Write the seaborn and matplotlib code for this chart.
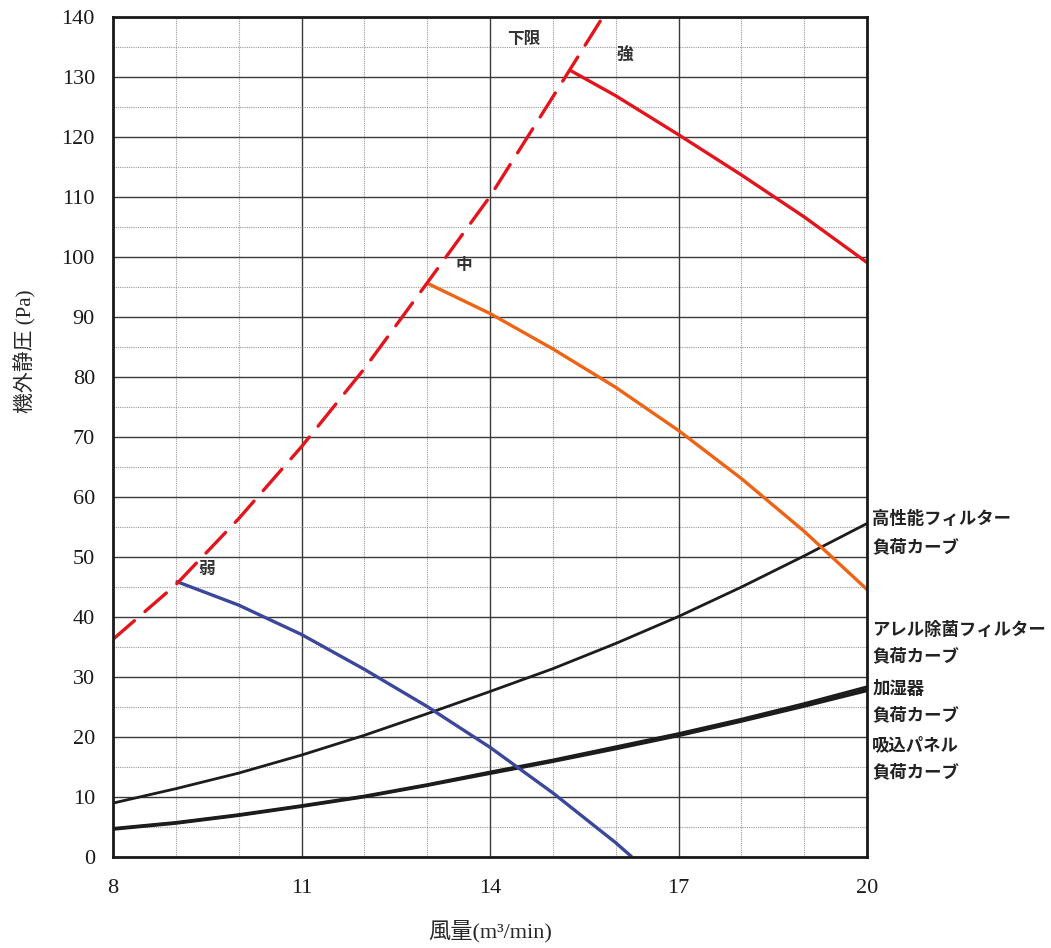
import numpy as np
import pandas as pd
import seaborn as sns
import matplotlib.pyplot as plt
from matplotlib.ticker import MultipleLocator, FixedLocator
import matplotlib.transforms as mtransforms

sns.set_style("white")
plt.rcParams['font.family'] = ['Liberation Serif', 'Noto Sans CJK JP']

# 下限 (赤破線)
limit_x = [8, 9, 10, 11, 12, 13, 14, 15, 15.8]
limit_y = [36.2, 45.3, 56.3, 68.3, 81.3, 95.6, 110.0, 126.6, 140.0]

# 弱
weak_x = [9.02, 10, 11, 12, 13, 14, 15, 16, 16.25]
weak_y = [45.8, 41.9, 37.0, 31.2, 25.0, 18.2, 10.6, 2.3, 0.0]

# 中
mid_x = [13.03, 14, 15, 16, 17, 18, 19, 20]
mid_y = [95.4, 90.5, 84.6, 78.2, 71.0, 63.0, 54.2, 44.5]

# 強
strong_x = [15.28, 16, 17, 18, 19, 20]
strong_y = [131.0, 126.8, 120.3, 113.6, 106.6, 99.0]

# 負荷カーブ
load_x = [8, 9, 10, 11, 12, 13, 14, 15, 16, 17, 18, 19, 20]
hepa_y = [8.9, 11.3, 13.9, 16.9, 20.2, 23.8, 27.5, 31.3, 35.5, 40.0, 44.9, 50.1, 55.5]
allergy_y = [4.7, 5.7, 7.0, 8.5, 10.1, 12.0, 14.1, 16.1, 18.3, 20.5, 22.9, 25.5, 28.3]
humid_y = [4.6, 5.6, 6.9, 8.4, 10.0, 11.9, 14.0, 16.0, 18.1, 20.3, 22.7, 25.2, 27.9]
panel_y = [4.5, 5.5, 6.8, 8.3, 9.9, 11.8, 13.8, 15.8, 17.9, 20.1, 22.5, 25.0, 27.6]

fan_labels = ['下限', '強', '中', '弱']
fan_label_x = [14.54, 16.14, 13.58, 9.49]
fan_label_y = [136.3, 133.4, 98.6, 48.0]

right_labels = ['高性能フィルター', '負荷カーブ', 'アレル除菌フィルター', '負荷カーブ',
                '加湿器', '負荷カーブ', '吸込パネル', '負荷カーブ']
right_label_y = [56.2, 51.6, 37.8, 33.3, 28.0, 23.6, 18.6, 14.1]

red = '#E3141C'
orange = '#EF6414'
blue = '#3B479B'
black = '#1C1C1C'

fig = plt.figure(figsize=(10.51, 9.48), dpi=100)
ax = fig.add_axes([113 / 1051, (948 - 856.5) / 948, 754 / 1051, 840 / 948])

# grid
ax.set_xlim(8, 20)
ax.set_ylim(0, 140)
ax.xaxis.set_major_locator(FixedLocator([8, 11, 14, 17, 20]))
ax.xaxis.set_minor_locator(MultipleLocator(1))
ax.yaxis.set_major_locator(MultipleLocator(10))
ax.yaxis.set_minor_locator(MultipleLocator(5))
ax.grid(which='major', color='#3a3a3a', lw=1.0, ls='-')
ax.grid(which='minor', color='#999999', lw=0.8, ls=(0, (1, 1)))
ax.set_axisbelow(True)

sns.lineplot(x=load_x, y=hepa_y, ax=ax, color=black, lw=2.0)
sns.lineplot(x=load_x, y=allergy_y, ax=ax, color=black, lw=1.9)
sns.lineplot(x=load_x, y=humid_y, ax=ax, color=black, lw=1.9)
sns.lineplot(x=load_x, y=panel_y, ax=ax, color=black, lw=1.9)

sns.lineplot(x=weak_x, y=weak_y, ax=ax, color=blue, lw=2.4)
sns.lineplot(x=mid_x, y=mid_y, ax=ax, color=orange, lw=2.4)
sns.lineplot(x=strong_x, y=strong_y, ax=ax, color=red, lw=2.4)
sns.lineplot(x=limit_x, y=limit_y, ax=ax, color=red, lw=2.4,
             linestyle=(0, (8.5, 4.2)), dash_capstyle='round')

for lab, lx, ly in zip(fan_labels, fan_label_x, fan_label_y):
    ax.text(lx, ly, lab, family=['Noto Sans CJK JP'], fontweight='bold',
            fontsize=12, color='#333333', ha='center', va='center')

trans = mtransforms.blended_transform_factory(ax.transAxes, ax.transData)
for lab, ly in zip(right_labels, right_label_y):
    ax.text(1.007, ly, lab, transform=trans, family=['Noto Sans CJK JP'],
            fontweight='bold', fontsize=12.5, color='#222222',
            ha='left', va='center', clip_on=False)

for s in ax.spines.values():
    s.set_color('#1a1a1a')
    s.set_linewidth(2.0)

ax.tick_params(which='major', direction='in', length=4, width=1.2,
               labelsize=16, pad=13, colors='#1a1a1a')
ax.tick_params(which='minor', length=0)
ax.tick_params(axis='x', pad=16)

ax.set_xlabel('風量(m³/min)', fontsize=16, labelpad=16)
ax.set_ylabel('機外静圧 (Pa)', fontsize=15)
ax.yaxis.set_label_coords(-0.102, 0.601)

fig.savefig('out.png', dpi=100)
